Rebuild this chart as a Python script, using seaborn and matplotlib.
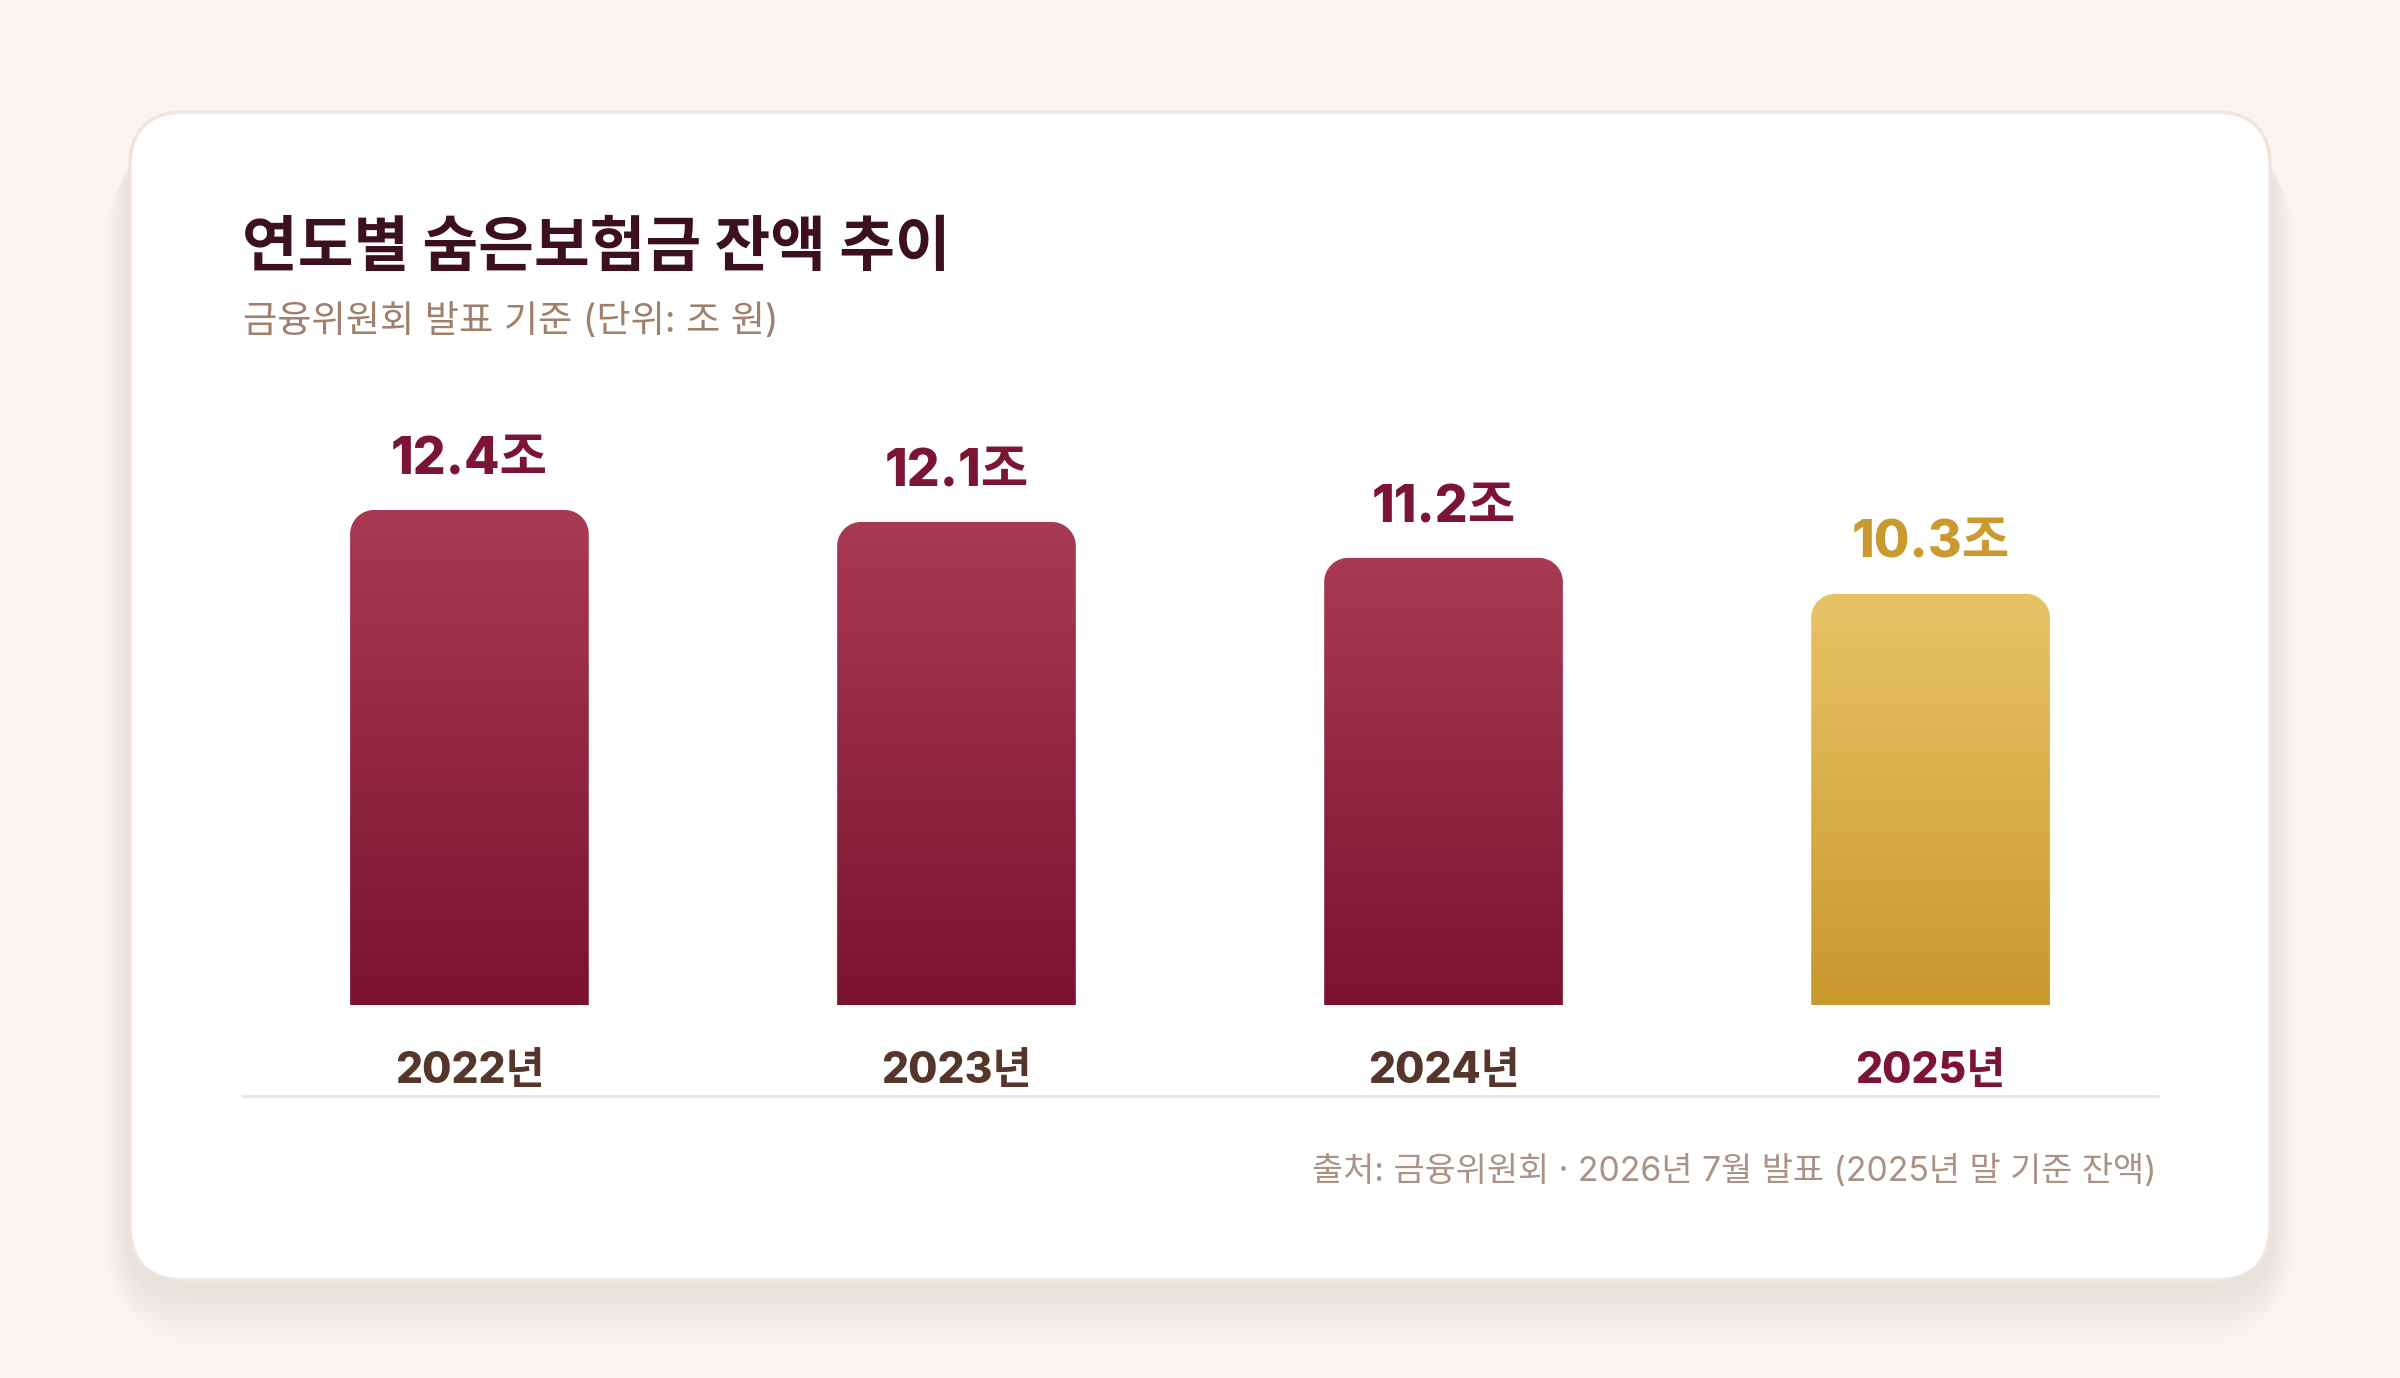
import numpy as np
import pandas as pd
import matplotlib
matplotlib.use("Agg")
import matplotlib.pyplot as plt
import seaborn as sns
from matplotlib.patches import FancyBboxPatch, PathPatch
from matplotlib.path import Path
from matplotlib.colors import LinearSegmentedColormap
from matplotlib.transforms import IdentityTransform
from matplotlib.lines import Line2D

# ---------------- Daten ----------------
years = ["2022년", "2023년", "2024년", "2025년"]
balance = [12.4, 12.1, 11.2, 10.3]
value_labels = ["12.4조", "12.1조", "11.2조", "10.3조"]
highlight = [False, False, False, True]

title = "연도별 숨은보험금 잔액 추이"
subtitle = "금융위원회 발표 기준 (단위: 조 원)"
source = "출처: 금융위원회 · 2026년 7월 발표 (2025년 말 기준 잔액)"

# Farben
BG = "#f9f4ef"
CRIMSON_TOP, CRIMSON_BOT = "#a93a53", "#7a1230"
GOLD_TOP, GOLD_BOT = "#e8c365", "#c9982d"
CRIMSON_TXT = "#7c1533"
GOLD_TXT = "#c99a2e"
YEAR_TXT = "#55362b"

W, H, DPI = 2400, 1378, 200

sns.set_theme(style="white")
plt.rcParams["font.family"] = ["Inter", "Noto Sans CJK KR", "DejaVu Sans"]

fig = plt.figure(figsize=(W / DPI, H / DPI), dpi=DPI, facecolor=BG)

def px(x, y):
    # Pixel (von oben) -> Figure-Koordinaten
    return x / W, 1 - y / H

# ---------------- Karte mit Schatten ----------------
cx0, cy0, cx1, cy1 = 130, 112, 2270, 1280
for i in range(18):
    grow = 3 + i * 4
    sh = FancyBboxPatch((cx0 - grow * 0.35, H - cy1 - 12 - grow * 0.75),
                        (cx1 - cx0) + grow * 0.7, (cy1 - cy0) + grow * 0.5,
                        boxstyle=f"round,pad=0,rounding_size={55 + grow * 0.8}",
                        transform=IdentityTransform(), facecolor="#e8d6ce",
                        edgecolor="none", alpha=0.024, zorder=0)
    fig.patches.append(sh)
card = FancyBboxPatch((cx0, H - cy1), cx1 - cx0, cy1 - cy0,
                      boxstyle="round,pad=0,rounding_size=55",
                      transform=IdentityTransform(), facecolor="white",
                      edgecolor="#efe4de", linewidth=1.2, zorder=1)
fig.patches.append(card)

# ---------------- Achse ----------------
ax_left, ax_right = 242, 2158
ax_bottom, ax_top = 1005, 400
l, b = px(ax_left, ax_bottom)
r, t = px(ax_right, ax_top)
ax = fig.add_axes([l, b, r - l, t - b])
ax.set_facecolor("none")
ax.set_zorder(2)

df = pd.DataFrame({"year": years, "balance": balance})
sns.barplot(data=df, x="year", y="balance", hue="year",
            palette=[GOLD_BOT if h else CRIMSON_BOT for h in highlight],
            width=0.49, legend=False, ax=ax)

ymax = balance[0] * (ax_bottom - ax_top) / (1005 - 510)
ax.set_xlim(-0.467, 3.467)
ax.set_ylim(0, ymax)
for s in ax.spines.values():
    s.set_visible(False)
ax.set_yticks([])
ax.set_ylabel("")
ax.set_xlabel("")

# Pixel pro Dateneinheit, fuer runde Ecken
ppx = (ax_right - ax_left) / (3.467 + 0.467)
ppy = (ax_bottom - ax_top) / ymax
radius = 24

def top_rounded(x0, x1, y0, y1, rx, ry, n=24):
    tt = np.linspace(0, np.pi / 2, n)
    right = np.column_stack([x1 - rx + rx * np.cos(tt), y1 - ry + ry * np.sin(tt)])
    left = np.column_stack([x0 + rx - rx * np.sin(tt), y1 - ry + ry * np.cos(tt)])
    pts = np.vstack([[x0, y0], [x1, y0], right, left, [x0, y0]])
    return Path(pts, closed=True)

grad = np.linspace(0, 1, 256).reshape(-1, 1)
for patch, hl, lab in zip(list(ax.patches), highlight, value_labels):
    x0 = patch.get_x()
    x1 = x0 + patch.get_width()
    h = patch.get_height()
    patch.set_visible(False)
    path = top_rounded(x0, x1, 0, h, radius / ppx, radius / ppy)
    clip = PathPatch(path, transform=ax.transData, facecolor="none", edgecolor="none")
    ax.add_patch(clip)
    cmap = LinearSegmentedColormap.from_list(
        "g", [GOLD_BOT, GOLD_TOP] if hl else [CRIMSON_BOT, CRIMSON_TOP])
    im = ax.imshow(grad, extent=[x0, x1, 0, h], origin="lower", aspect="auto",
                   cmap=cmap, interpolation="bicubic", zorder=2)
    im.set_clip_path(clip)
    ax.annotate(lab, xy=((x0 + x1) / 2, h), xytext=(0, 9.3), textcoords="offset points",
                ha="center", va="bottom", fontsize=18.6, fontweight="heavy",
                color=GOLD_TXT if hl else CRIMSON_TXT)

ax.set_xlim(-0.467, 3.467)
ax.set_ylim(0, ymax)

ax.tick_params(axis="x", length=0, pad=16.5)
ax.set_xticks(range(len(years)))
ax.set_xticklabels(years, fontsize=15.3, fontweight="heavy")
for tl, hl in zip(ax.get_xticklabels(), highlight):
    tl.set_color(CRIMSON_TXT if hl else YEAR_TXT)

# Grundlinie unter den Jahren
y_line = 1 - 1096 / H
fig.add_artist(Line2D([ax_left / W, ax_right / W], [y_line, y_line],
                      color="#eee5df", linewidth=1.1, zorder=3))

# ---------------- Texte ----------------
fig.text(*px(242, 250), title, fontsize=21.8, fontweight="heavy", color="#3c1020",
         ha="left", va="center", zorder=3)
fig.text(*px(243, 322), subtitle, fontsize=13.4, color="#a07f6b",
         ha="left", va="center", zorder=3)
fig.text(*px(2157, 1171), source, fontsize=12.2, color="#ab9284",
         ha="right", va="center", zorder=3)

fig.savefig("out.png", dpi=DPI, facecolor=BG)
